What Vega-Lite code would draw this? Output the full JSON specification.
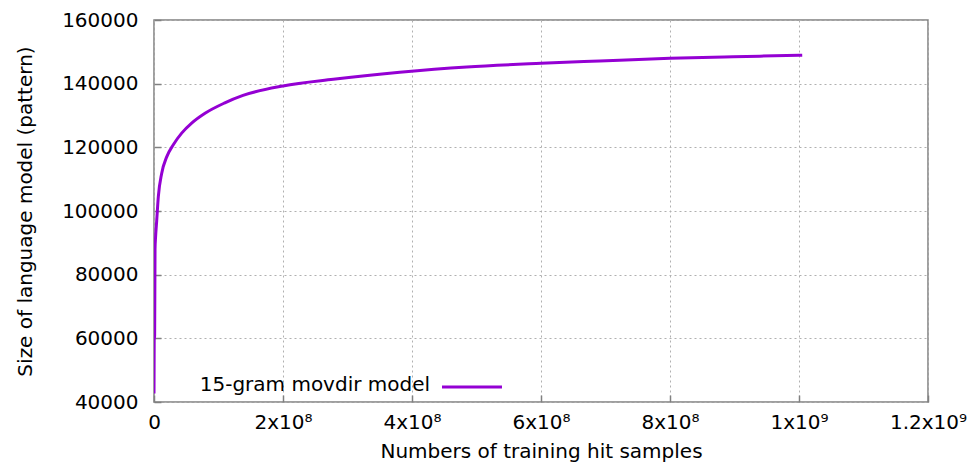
{
  "$schema": "https://vega.github.io/schema/vega-lite/v6.json",
  "width": 774,
  "height": 382,
  "autosize": {"type": "none"},
  "padding": {"left": 154, "top": 20, "right": 40, "bottom": 63},
  "config": {
    "font": "DejaVu Sans",
    "view": {"stroke": "#808080", "strokeWidth": 1.5},
    "axis": {
      "labelFontSize": 20,
      "titleFontSize": 20,
      "labelColor": "#000000",
      "titleColor": "#000000",
      "titleFontWeight": "normal",
      "domain": false,
      "grid": true,
      "gridColor": "#b0b0b0",
      "gridDash": [2, 3],
      "gridWidth": 1,
      "tickColor": "#808080",
      "tickWidth": 1.5
    }
  },
  "layer": [
    {
      "data": {
        "values": [
          {"samples": 0, "size": 42700},
          {"samples": 300000, "size": 59300},
          {"samples": 1000000, "size": 61000},
          {"samples": 1600000, "size": 88000},
          {"samples": 2500000, "size": 92000},
          {"samples": 4200000, "size": 97000},
          {"samples": 6700000, "size": 104500},
          {"samples": 11900000, "size": 111800},
          {"samples": 19700000, "size": 117000},
          {"samples": 29900000, "size": 120800},
          {"samples": 42900000, "size": 124450},
          {"samples": 58400000, "size": 127600},
          {"samples": 79100000, "size": 130700},
          {"samples": 109000000, "size": 133900},
          {"samples": 138000000, "size": 136300},
          {"samples": 200000000, "size": 139280},
          {"samples": 278000000, "size": 141370},
          {"samples": 381000000, "size": 143570},
          {"samples": 485000000, "size": 145250},
          {"samples": 600000000, "size": 146400},
          {"samples": 691000000, "size": 147130},
          {"samples": 800000000, "size": 147970},
          {"samples": 898000000, "size": 148480},
          {"samples": 1000000000, "size": 148920},
          {"samples": 1005000000, "size": 148950}
        ]
      },
      "mark": {"type": "line", "color": "#9400d3", "strokeWidth": 3, "clip": true, "interpolate": "monotone"},
      "encoding": {
        "x": {
          "field": "samples",
          "type": "quantitative",
          "scale": {"domain": [0, 1200000000], "nice": false, "zero": false},
          "axis": {
            "title": "Numbers of training hit samples",
            "values": [0, 200000000, 400000000, 600000000, 800000000, 1000000000, 1200000000],
            "labelExpr": "datum.value === 0 ? '0' : (datum.value >= 1000000000 ? (datum.value / 1000000000) + 'x10⁹' : (datum.value / 100000000) + 'x10⁸')",
            "tickSize": -7,
            "labelPadding": 17,
            "titlePadding": 9,
            "labelFlush": false,
            "labelOverlap": false
          }
        },
        "y": {
          "field": "size",
          "type": "quantitative",
          "scale": {"domain": [40000, 160000], "nice": false, "zero": false},
          "axis": {
            "title": "Size of language model (pattern)",
            "values": [40000, 60000, 80000, 100000, 120000, 140000, 160000],
            "format": "d",
            "tickSize": -7,
            "labelPadding": 23,
            "titlePadding": 26,
            "labelFlush": false,
            "labelOverlap": false
          }
        }
      }
    },
    {
      "data": {"values": [{"label": "15-gram movdir model"}]},
      "mark": {"type": "text", "align": "right", "baseline": "middle", "fontSize": 20, "color": "#000000"},
      "encoding": {
        "x": {"datum": 428000000, "type": "quantitative"},
        "y": {"datum": 45300, "type": "quantitative"},
        "text": {"field": "label"}
      }
    },
    {
      "data": {"values": [{"label": "15-gram movdir model"}]},
      "mark": {"type": "rule", "color": "#9400d3", "strokeWidth": 3},
      "encoding": {
        "x": {"datum": 446500000, "type": "quantitative"},
        "x2": {"datum": 539500000},
        "y": {"datum": 44700, "type": "quantitative"}
      }
    }
  ]
}
